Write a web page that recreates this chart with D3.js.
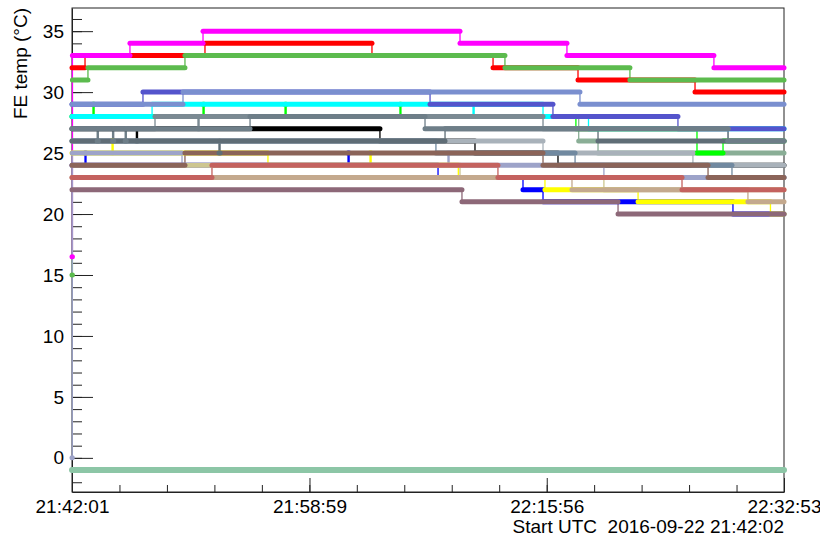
<!DOCTYPE html>
<html>
<head>
<meta charset="utf-8">
<style>
  body { margin: 0; background: #fff; }
  text { font-family: "Liberation Sans", Arial, sans-serif; fill: #000; white-space: pre; }
  .axis path, .axis line { stroke: #222; }
</style>
<script src="https://cdn.jsdelivr.net/npm/d3@7"></script>
</head>
<body>
<svg width="820" height="539"></svg>
<script>
// time window of the run (UTC)
var startTime = "2016-09-22 21:42:01",
    endTime = "2016-09-22 22:32:53",
    startLabel = "Start UTC  2016-09-22 21:42:02",
    yTitle = "FE temp (\u00b0C)";

// one array per front-end board: [minutes after start, temperature in degC]
// a value is held until the next point (readout is in whole degrees)
var black       = [[0,27],[4.6,26],[4.68,27],[22.0,26],[28.79,25],[34.72,24]];
var grayGreen   = [[0,28],[36.2,26],[37.58,25]];
var brightGreen = [[0,28],[1.5,29],[1.58,28],[9.36,29],[9.44,28],[15.22,29],[15.3,28],[23.43,29],[23.5,28],[36.0,27],[44.65,25],[46.51,26]];
var lightGray   = [[0,26],[33.65,25],[44.36,24]];
var steel       = [[0,26],[26.0,25],[35.94,24],[47.15,23]];
var blue        = [[0,24],[0.93,25],[1.0,24],[19.72,25],[19.8,24],[26.15,23],[32.22,22],[33.65,21],[47.22,20]];
var yellow      = [[0,25],[2.86,26],[2.94,25],[14.0,24],[21.29,25],[21.37,24],[27.6,23],[33.79,22],[40.44,21],[49.9,20]];
var lavender    = [[0,0],[0.02,25],[7.86,24],[26.86,25],[26.94,24],[38.0,23]];
var khaki       = [[0,24],[27.72,23],[38.0,22]];
var tan         = [[0,23],[35.72,22],[48.29,21]];
var indianRed   = [[0,23],[10.0,24],[30.43,23],[43.58,22]];
var brown       = [[0,24],[8.07,25],[33.65,24],[45.44,23]];
var mauve       = [[0,22],[27.86,21],[39.01,20]];
var cyan        = [[0,28],[5.72,29],[28.65,28],[28.73,29],[33.65,28],[36.9,27]];
var blueViolet  = [[0,29],[5.07,30],[25.58,29],[34.36,28],[43.29,27]];
var slateBlue   = [[0,29],[7.93,30],[36.29,29]];
var darkGray    = [[0,26],[10.5,25],[10.58,26],[26.65,27],[37.58,26]];
var midGray     = [[0,27],[5.93,28],[9.0,27],[9.08,28],[33.65,27],[46.87,26]];
var slateGray   = [[0,27],[1.8,26],[1.88,27],[2.9,26],[2.98,27],[3.8,26],[3.88,27],[12.72,28],[25.22,27],[46.87,26]];
var red         = [[0,32],[0.93,33],[9.5,34],[21.43,33],[30.08,32],[36.15,31],[44.51,30]];
var green       = [[0,15],[0.03,31],[1.14,32],[8.07,33],[30.93,32],[39.86,31]];
var magenta     = [[0,16.5],[0.03,33],[4.14,34],[9.36,35],[27.72,34],[35.36,33],[45.86,32]];
var seaGreen    = [[0,-1]];

// drawing order, bottom first, and colours
var series = [black, grayGreen, brightGreen, lightGray, steel, blue, yellow, lavender, khaki, tan,
              indianRed, brown, mauve, cyan, blueViolet, slateBlue, darkGray, midGray, slateGray,
              red, green, magenta, seaGreen];
var colors = ["#000000", "#8aae96", "#00ff00", "#a9b2ba", "#7189a0", "#0000ff", "#ffff00", "#9da3c9", "#cdc690", "#c4a98e",
              "#c4625f", "#8b6459", "#8d6878", "#00ffff", "#5454cc", "#7a8fcf", "#5f6d76", "#7b8a93", "#6e7e88",
              "#ff0000", "#5cbb4e", "#ff00ff", "#8cc6a6"];

var svg = d3.select("svg"),
    plotLeft = 72, plotRight = 784, plotTop = 8, plotBottom = 492;

var parse = d3.utcParse("%Y-%m-%d %H:%M:%S");
var t0 = parse(startTime), t1 = parse(endTime);
var endMin = (t1 - t0) / 60000;
function toDate(m) { return new Date(t0.getTime() + m * 60000); }

var x = d3.scaleUtc().domain([t0, t1]).range([plotLeft, plotRight]);
var y = d3.scaleLinear().domain([-2.8, 36.9]).range([plotBottom, plotTop]);

// frame first, graphs are drawn over it (as ROOT does)
svg.append("rect")
    .attr("x", plotLeft).attr("y", plotTop)
    .attr("width", plotRight - plotLeft).attr("height", plotBottom - plotTop)
    .attr("fill", "none").attr("stroke", "#222").attr("stroke-width", 1);

// y axis, ticks inside the frame
svg.append("g")
    .attr("class", "axis")
    .attr("transform", "translate(" + plotLeft + ",0)")
    .call(d3.axisLeft(y).tickValues(d3.range(-2, 37)).tickSize(-10).tickFormat(""))
    .call(function(g) { g.select(".domain").remove(); });
svg.append("g")
    .attr("class", "axis")
    .attr("transform", "translate(" + plotLeft + ",0)")
    .call(d3.axisLeft(y).tickValues(d3.range(0, 36, 5)).tickSize(-21).tickPadding(8).tickSizeOuter(0))
    .call(function(g) {
        g.selectAll("text").attr("font-size", 19).attr("font-family", "Liberation Sans, Arial, sans-serif");
    });

// x axis: three equal divisions (whole seconds), five minor each
var span = (t1 - t0) / 1000;
var xMajor = d3.range(0, 4).map(function(k) { return new Date(+t0 + Math.ceil(k * span / 3) * 1000); });
var xMinor = d3.range(0, 16).map(function(k) { return new Date(+t0 + k * span * 1000 / 15); });
svg.append("g")
    .attr("class", "axis")
    .attr("transform", "translate(0," + plotBottom + ")")
    .call(d3.axisBottom(x).tickValues(xMinor).tickSize(-7).tickFormat(""))
    .call(function(g) { g.select(".domain").remove(); });
svg.append("g")
    .attr("class", "axis")
    .attr("transform", "translate(0," + plotBottom + ")")
    .call(d3.axisBottom(x).tickValues(xMajor).tickSize(-14).tickPadding(8).tickSizeOuter(0)
        .tickFormat(d3.utcFormat("%H:%M:%S")))
    .call(function(g) {
        g.selectAll("text").attr("font-size", 19).attr("font-family", "Liberation Sans, Arial, sans-serif");
    });

var step = d3.line()
    .x(function(d) { return x(toDate(d[0])); })
    .y(function(d) { return y(d[1]); })
    .curve(d3.curveStepAfter);

function withEnd(s) { return s.concat([[endMin, s[s.length - 1][1]]]); }

// thin connecting lines under all the marker runs;
// the long start-up jump of the lavender board sits on top at the left edge
var links = svg.append("g");
series.filter(function(s) { return s !== lavender; }).concat([lavender]).forEach(function(s) {
    links.append("path")
        .attr("d", step(withEnd(s)))
        .attr("fill", "none")
        .attr("stroke", colors[series.indexOf(s)])
        .attr("stroke-width", 1.3);
});

// thick runs of markers
var plot = svg.append("g");
series.forEach(function(s, i) {
    plot.append("g").selectAll("line")
        .data(d3.pairs(withEnd(s)))
        .enter().append("line")
        .attr("x1", function(d) { return x(toDate(d[0][0])); })
        .attr("x2", function(d) { return x(toDate(d[1][0])); })
        .attr("y1", function(d) { return y(d[0][1]); })
        .attr("y2", function(d) { return y(d[0][1]); })
        .attr("stroke", colors[i])
        .attr("stroke-width", s === seaGreen ? 6 : 5)
        .attr("stroke-linecap", "round");
});

svg.append("text")
    .attr("transform", "translate(27," + plotTop + ") rotate(-90)")
    .attr("text-anchor", "end")
    .attr("font-size", 19)
    .text(yTitle);

svg.append("text")
    .attr("x", plotRight).attr("y", 533)
    .attr("text-anchor", "end")
    .attr("font-size", 19)
    .text(startLabel);
</script>
</body>
</html>
